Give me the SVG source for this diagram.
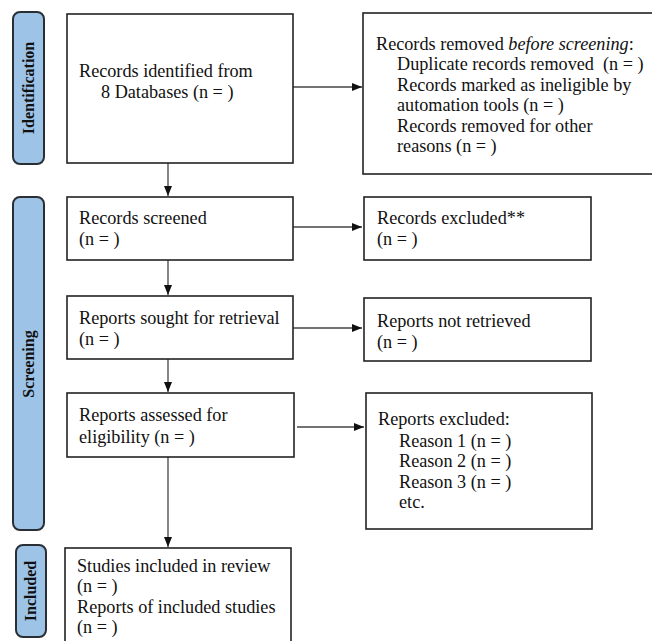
<svg xmlns="http://www.w3.org/2000/svg" width="652" height="641" viewBox="0 0 652 641">
<style>
.box{fill:#fff;stroke:#222;stroke-width:1.6}
.phase{fill:#9dc3e6;stroke:#2a2f36;stroke-width:2}
.t{font-family:"Liberation Serif","Times New Roman",serif;font-size:18.2px;fill:#111}
.pt{font-family:"Liberation Serif","Times New Roman",serif;font-size:16px;font-weight:bold;fill:#111}
.c{stroke:#444;stroke-width:1.3;fill:none;marker-end:url(#ah)}
</style>
<defs>
<marker id="ah" markerWidth="10" markerHeight="8" refX="10" refY="4" orient="auto" markerUnits="userSpaceOnUse">
<path d="M0,0 L10,4 L0,8 Z" fill="#111"/>
</marker>
</defs>
<rect width="652" height="641" fill="#fff"/>
<g id="phase-identification">
<rect class="phase" x="13" y="12" width="31" height="152" rx="7"/>
<text class="pt" transform="translate(34,88) rotate(-90)" text-anchor="middle">Identification</text>
</g>
<g id="phase-screening">
<rect class="phase" x="13" y="197" width="31" height="333" rx="7"/>
<text class="pt" transform="translate(34,364) rotate(-90)" text-anchor="middle">Screening</text>
</g>
<g id="phase-included">
<rect class="phase" x="16" y="545" width="30" height="92" rx="7"/>
<text class="pt" transform="translate(36,591) rotate(-90)" text-anchor="middle">Included</text>
</g>
<g id="connectors">
<line class="c" x1="293" y1="87" x2="362" y2="87"/>
<line class="c" x1="168" y1="163" x2="168" y2="196"/>
<line class="c" x1="293" y1="227" x2="362" y2="227"/>
<line class="c" x1="168" y1="260" x2="168" y2="295"/>
<line class="c" x1="293" y1="328" x2="362" y2="328"/>
<line class="c" x1="168" y1="359" x2="168" y2="392"/>
<line class="c" x1="297" y1="427" x2="364" y2="427"/>
<line class="c" x1="168" y1="457" x2="168" y2="547"/>
</g>
<g id="records-identified">
<rect class="box" x="67" y="14" width="226" height="149"/>
<text class="t" x="79" y="77">Records identified from</text>
<text class="t" x="101" y="98">8 Databases (n = )</text>
</g>
<g id="records-removed">
<rect class="box" x="363" y="13" width="300" height="161"/>
<text class="t" x="376" y="50">Records removed <tspan font-style="italic">before screening</tspan>:</text>
<text class="t" x="397" y="70" xml:space="preserve">Duplicate records removed  (n = )</text>
<text class="t" x="397" y="91">Records marked as ineligible by</text>
<text class="t" x="397" y="111">automation tools (n = )</text>
<text class="t" x="397" y="132">Records removed for other</text>
<text class="t" x="397" y="152">reasons (n = )</text>
</g>
<g id="records-screened">
<rect class="box" x="67" y="197" width="226" height="63"/>
<text class="t" x="79" y="224">Records screened</text>
<text class="t" x="79" y="245">(n = )</text>
</g>
<g id="records-excluded">
<rect class="box" x="364" y="197" width="227" height="63"/>
<text class="t" x="377" y="224">Records excluded**</text>
<text class="t" x="377" y="245">(n = )</text>
</g>
<g id="reports-sought">
<rect class="box" x="67" y="296" width="226" height="63"/>
<text class="t" x="79" y="324">Reports sought for retrieval</text>
<text class="t" x="79" y="345">(n = )</text>
</g>
<g id="reports-not-retrieved">
<rect class="box" x="364" y="298" width="227" height="63"/>
<text class="t" x="377" y="327">Reports not retrieved</text>
<text class="t" x="377" y="348">(n = )</text>
</g>
<g id="reports-assessed">
<rect class="box" x="67" y="393" width="227" height="64"/>
<text class="t" x="79" y="421">Reports assessed for</text>
<text class="t" x="79" y="443">eligibility (n = )</text>
</g>
<g id="reports-excluded">
<rect class="box" x="366" y="393" width="226" height="136"/>
<text class="t" x="378" y="425">Reports excluded:</text>
<text class="t" x="399" y="447">Reason 1 (n = )</text>
<text class="t" x="399" y="467">Reason 2 (n = )</text>
<text class="t" x="399" y="488">Reason 3 (n = )</text>
<text class="t" x="399" y="508">etc.</text>
</g>
<g id="studies-included">
<rect class="box" x="65" y="548" width="226" height="100"/>
<text class="t" x="77" y="572">Studies included in review</text>
<text class="t" x="77" y="592">(n = )</text>
<text class="t" x="77" y="613">Reports of included studies</text>
<text class="t" x="77" y="633">(n = )</text>
</g>
</svg>
